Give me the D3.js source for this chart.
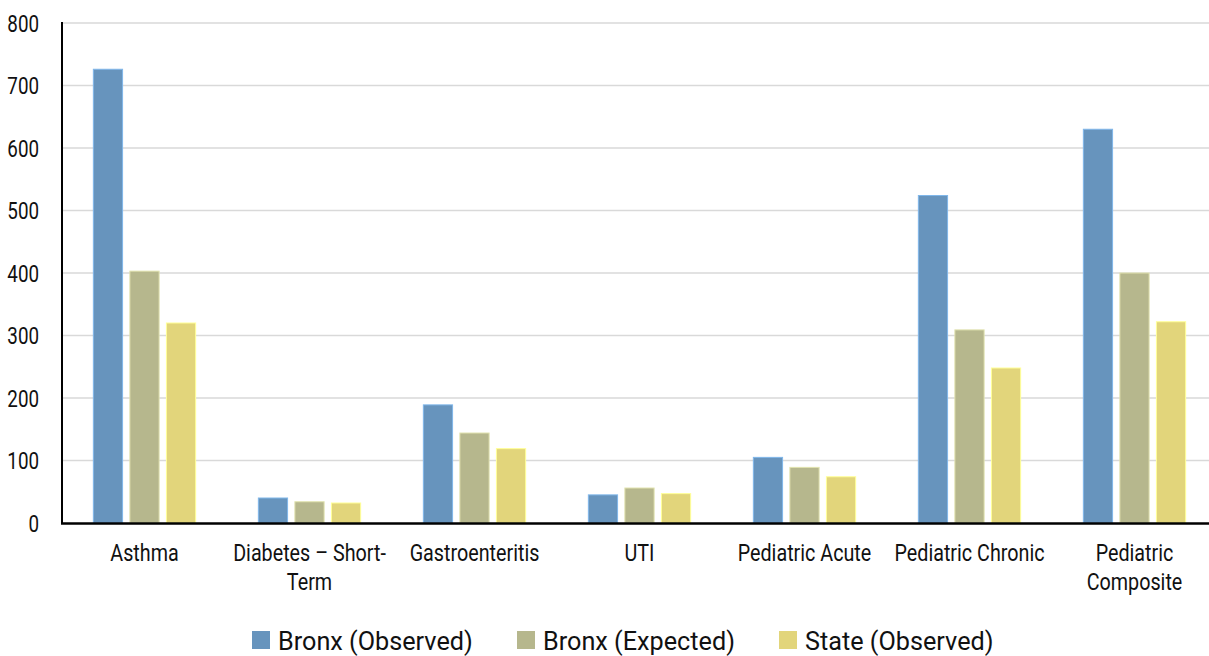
<!DOCTYPE html>
<html><head><meta charset="utf-8">
<script src="https://cdn.jsdelivr.net/npm/d3@7"></script>
<style>body{margin:0;background:#fff}svg{display:block;font-family:Roboto,"Liberation Sans",sans-serif}</style>
</head><body>
<svg id="c" width="1209" height="656"></svg>
<script>
const categories = [["Asthma"],["Diabetes – Short-","Term"],["Gastroenteritis"],["UTI"],["Pediatric Acute"],["Pediatric Chronic"],["Pediatric","Composite"]];
const seriesNames = ["Bronx (Observed)","Bronx (Expected)","State (Observed)"];
const bronxObserved = [726, 40, 189, 45, 105, 524, 630];
const bronxExpected = [403, 34, 144, 56, 89, 309, 400];
const stateObserved = [320, 32, 119, 47, 74, 248, 322];
const yTicks = [0,100,200,300,400,500,600,700,800];
const colors = ["#6794bd","#b6b78d","#e2d57b"];
const series = [bronxObserved, bronxExpected, stateObserved];

const svg = d3.select("#c");
const x = d3.scaleBand().domain(d3.range(categories.length)).range([62, 1217]).paddingInner(0.38).paddingOuter(0.19);
const x1 = d3.scaleBand().domain(d3.range(3)).range([0, x.bandwidth()]).paddingInner(0.2);
const y = d3.scaleLinear().domain([0, 800]).range([523, 23]);

svg.append("g").selectAll("line").data(yTicks.filter(d=>d>0)).join("line")
  .attr("x1", 62).attr("x2", 1209).attr("y1", d=>y(d)).attr("y2", d=>y(d))
  .attr("stroke", "#d9d9d9").attr("stroke-width", 1.6);

svg.append("g").selectAll("text").data(yTicks).join("text")
  .attr("transform", d=>`translate(39,${y(d)+8.5}) scale(0.8,1)`).attr("text-anchor","end")
  .attr("font-size", 23.5).attr("fill","#111").text(d=>d);

const g = svg.append("g");
series.forEach((s, si) => {
  g.selectAll(".b"+si).data(s).join("rect")
    .attr("x", (d,i)=>x(i)+x1(si)).attr("width", x1.bandwidth())
    .attr("y", d=>y(d)).attr("height", d=>y(0)-y(d))
    .attr("fill", colors[si]).attr("stroke", d3.color(colors[si]).brighter(0.6)).attr("stroke-width", 1);
});

svg.append("line").attr("x1",62).attr("x2",62).attr("y1",22).attr("y2",524).attr("stroke","#000").attr("stroke-width",2);
svg.append("line").attr("x1",61).attr("x2",1209).attr("y1",523.5).attr("y2",523.5).attr("stroke","#000").attr("stroke-width",2.5);

const cl = svg.append("g").selectAll("text").data(categories).join("text")
  .attr("transform", (d,i)=>`translate(${x(i)+x.bandwidth()/2},561) scale(0.84,1)`).attr("text-anchor","middle")
  .attr("font-size", 23.5).attr("fill","#111");
cl.each(function(d){
  const t = d3.select(this);
  d.forEach((line, li) => t.append("tspan").attr("x", 0).attr("dy", li ? 29 : 0).text(line));
});

const legX = [252, 517, 779];
const lg = svg.append("g").selectAll("g").data(seriesNames).join("g")
  .attr("transform", (d,i)=>`translate(${legX[i]},631)`);
lg.append("rect").attr("width",18).attr("height",18).attr("fill",(d,i)=>colors[i]);
lg.append("text").attr("transform",`translate(26,18.5) scale(0.97,1)`).attr("font-size",26).attr("fill","#111").text(d=>d);
</script>
</body></html>
